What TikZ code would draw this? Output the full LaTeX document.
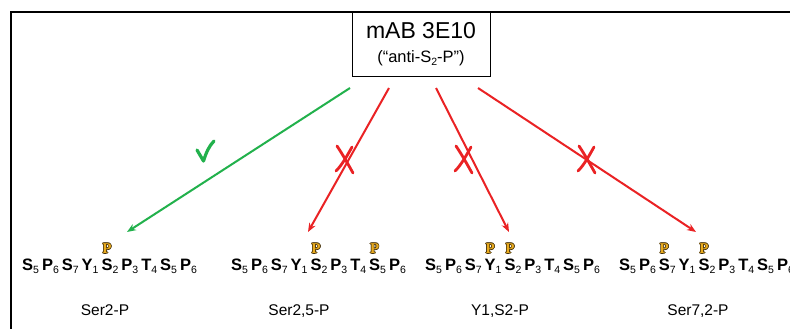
\documentclass[tikz,border=0pt]{standalone}
\usepackage{fontspec}
\setmainfont{Liberation Sans}
\newfontfamily\pserif{Liberation Serif}
\usetikzlibrary{arrows.meta,calc}

\definecolor{okgreen}{RGB}{34,177,76}
\definecolor{nored}{RGB}{234,34,36}
\definecolor{phosgold}{RGB}{232,170,30}
\definecolor{phosedge}{RGB}{70,50,10}

\tikzset{
  frameline/.style={line width=2pt, black},
  titlebox/.style={draw, line width=1.3pt, minimum width=138pt, minimum height=64pt, inner sep=0pt, align=center},
  res/.style={inner sep=0pt, font=\fontsize{16.5}{17}\selectfont\bfseries},
  pmark/.style={inner sep=0pt, anchor=base, font=\pserif\fontsize{15}{15}\selectfont\bfseries},
  seqlabel/.style={inner sep=0pt, anchor=base, font=\fontsize{15.5}{16}\selectfont},
  yes/.style={okgreen, line width=2pt, -{Stealth[length=9pt,width=7pt]}},
  no/.style={nored, line width=2pt, -{Stealth[length=9pt,width=7pt]}},
  tick/.style={okgreen, line width=3.2pt, line cap=round, line join=round},
  cross/.style={nored, line width=2.8pt, line cap=round},
}

% one CTD repeat row: S5 P6 S7 Y1 S2 P3 T4 S5 P6
\newcommand\seqrow[3]{%
  \foreach \rl/\rn [count=\i] in {S/5,P/6,S/7,Y/1,S/2,P/3,T/4,S/5,P/6}{%
    \ifnum\i=1
      \node[res, anchor=base west] (#1-\i) at (#2,#3)
        {\rl\raisebox{-3.5pt}{\mdseries\fontsize{10.5}{11}\selectfont\rn}};
    \else
      \pgfmathtruncatemacro\prv{\i-1}
      \node[res, anchor=base west] (#1-\i) at ($(#1-\prv.base east)+(2.6,0)$)
        {\rl\raisebox{-3.5pt}{\mdseries\fontsize{10.5}{11}\selectfont\rn}};
    \fi
  }%
}
% outlined phosphate mark above residue #2 of row #1
\newcommand\phos[2]{%
  \coordinate (#1-p#2) at ($(#1-#2.base west)+(5.6,-16.5)$);
  \foreach \dx/\dy in {0.6/0,-0.6/0,0/0.6,0/-0.6,0.45/0.45,-0.45/0.45,0.45/-0.45,-0.45/-0.45}
    \node[pmark, text=phosedge] at ($(#1-p#2)+(\dx,\dy)$) {P};
  \node[pmark, text=phosgold] at (#1-p#2) {P};
}

\begin{document}
\begin{tikzpicture}[x=1pt,y=-1pt]
\useasboundingbox (0,0) rectangle (790,329);
\fill[white] (0,0) rectangle (790,329);

% frame
\draw[frameline] (11,329) -- (11,12) -- (790,12);

% antibody
\node[titlebox, anchor=north west, fill=white] (ab) at (352,12) {};
\node[inner sep=0pt, anchor=base, font=\fontsize{23}{23}\selectfont] (abname) at (421,39) {mAB 3E10};
\node[inner sep=0pt, anchor=base, font=\fontsize{16.5}{17}\selectfont] (abalias) at (421,63)
  {(“anti-S\raisebox{-3pt}{\fontsize{10.5}{11}\selectfont 2}-P”)};

% sequences
\seqrow{sa}{22}{270}
\seqrow{sb}{231}{270}
\seqrow{sc}{425}{270}
\seqrow{sd}{619}{270}

\phos{sa}{5}
\phos{sb}{5}\phos{sb}{8}
\phos{sc}{4}\phos{sc}{5}
\phos{sd}{3}\phos{sd}{5}

\node[seqlabel] (la) at (105,315) {Ser2-P};
\node[seqlabel] (lb) at (299,315) {Ser2,5-P};
\node[seqlabel] (lc) at (500,315) {Y1,S2-P};
\node[seqlabel] (ld) at (698,315) {Ser7,2-P};

% arrows
\coordinate (a0) at (350,88);  \coordinate (a1) at (127,232);
\coordinate (b0) at (389,88);  \coordinate (b1) at (308,232);
\coordinate (c0) at (436,88);  \coordinate (c1) at (509,232);
\coordinate (d0) at (478,88);  \coordinate (d1) at (696,232);
\draw[yes] (a0) -- (a1);
\draw[no]  (b0) -- (b1);
\draw[no]  (c0) -- (c1);
\draw[no]  (d0) -- (d1);

% check mark
\draw[tick] (197,150) -- (203.5,161) .. controls (206,153) and (209,146) .. (214,141);

% crosses
\foreach \cx/\cy in {345/160,464/160,587/160}{
  \draw[cross] (\cx-8,\cy-14) .. controls (\cx-2,\cy-5) and (\cx+3,\cy+4) .. (\cx+8,\cy+13);
  \draw[cross] (\cx+7,\cy-13) .. controls (\cx+2,\cy-4) and (\cx-3,\cy+5) .. (\cx-9,\cy+11);
}
\end{tikzpicture}
\end{document}
